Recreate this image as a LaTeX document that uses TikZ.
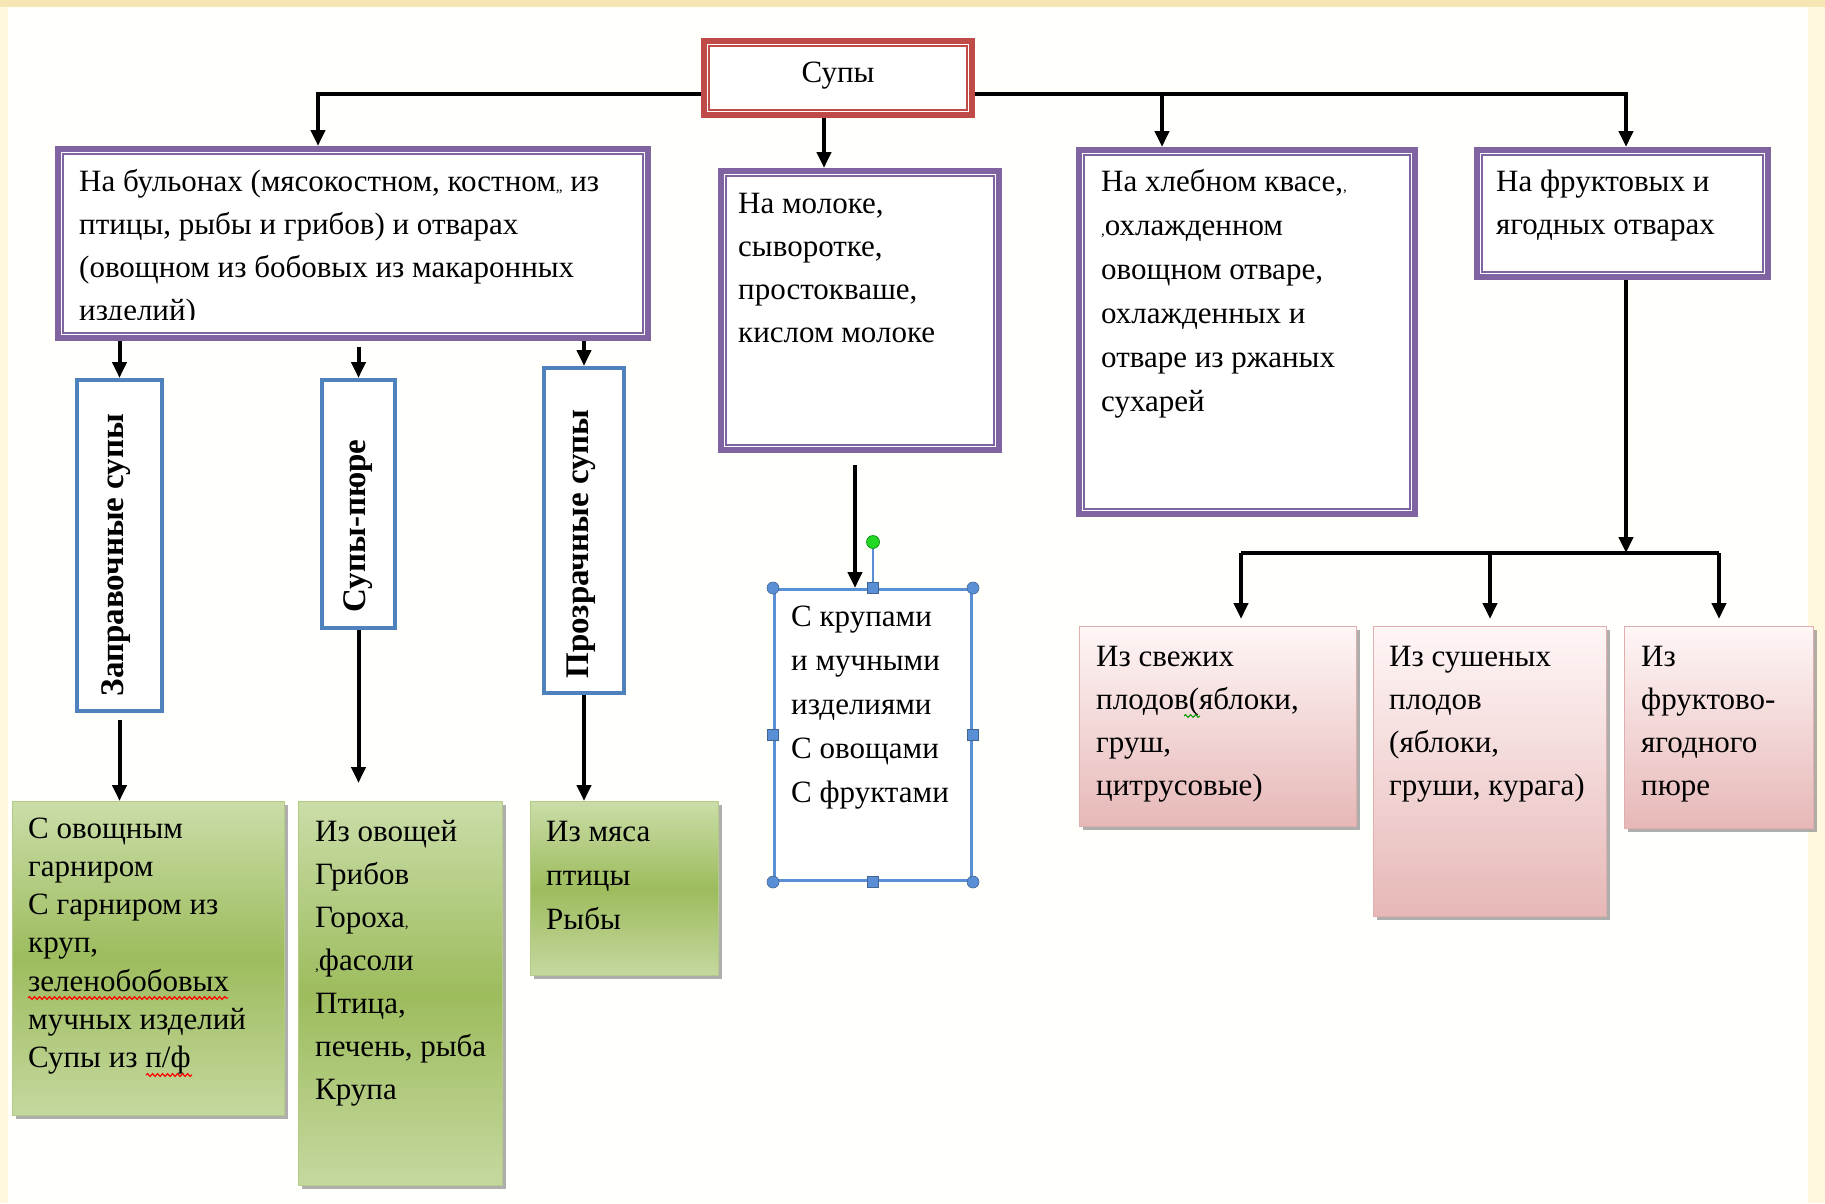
\documentclass[tikz,border=0pt]{standalone}
\usepackage{fontspec}
\setmainfont{Liberation Serif}
\usetikzlibrary{arrows.meta,calc,shadows,decorations.pathmorphing}
\definecolor{purp}{HTML}{8064A2}
\definecolor{redb}{HTML}{BE4B48}
\definecolor{blueb}{HTML}{4F81BD}
\definecolor{selb}{HTML}{5B8FD5}
\definecolor{gA}{HTML}{CADDA8}
\definecolor{gB}{HTML}{9DBC5D}
\definecolor{gC}{HTML}{C5D89F}
\definecolor{gE}{HTML}{B3CB86}
\definecolor{pA}{HTML}{FFF6F6}
\definecolor{pB}{HTML}{E6B8B7}
\definecolor{pE}{HTML}{E0AEAE}
\definecolor{bgc}{HTML}{FFFFFB}
\definecolor{topc}{HTML}{F6E6B4}
\definecolor{sidec}{HTML}{FFF8DE}
\definecolor{rotg}{HTML}{22D822}
\newcommand\ML[2]{\vtop{\baselineskip=#1pt\lineskiplimit=-100pt\lineskip=0pt\halign{##\hfil\cr#2\crcr}}}
\newcommand\sm[1]{{\fontsize{15}{15}\selectfont #1}}
\begin{document}
\begin{tikzpicture}[x=1pt,y=-1pt,
  ln/.style={line width=4pt},
  arr/.style={line width=4pt,-{Triangle[length=16pt,width=14pt]}},
  pbox/.style={rectangle,draw=purp,line width=6pt,fill=white,inner sep=0pt,anchor=north west},
  rbox/.style={rectangle,draw=redb,line width=6pt,fill=white,inner sep=0pt,anchor=north west},
  bbox/.style={rectangle,draw=blueb,line width=4pt,fill=white,inner sep=0pt,anchor=north west},
  gbox/.style={rectangle,draw=gE,line width=1pt,top color=gA,bottom color=gC,middle color=gB,inner sep=0pt,anchor=north west,
     drop shadow={shadow xshift=3pt,shadow yshift=-3pt,fill=black!45,opacity=0.7}},
  pkbox/.style={rectangle,draw=pE,line width=1pt,top color=pA,bottom color=pB,inner sep=0pt,anchor=north west,
     drop shadow={shadow xshift=3pt,shadow yshift=-3pt,fill=black!45,opacity=0.7}},
  sbox/.style={rectangle,draw=selb,line width=3pt,fill=white,inner sep=0pt,anchor=north west},
  txt/.style={font=\fontsize{31}{43}\selectfont,inner sep=0pt,anchor=base west,text=black},
  vtxt/.style={font=\bfseries\fontsize{33}{33}\selectfont,inner sep=0pt,rotate=90,text=black},
  hcirc/.style={circle,fill=selb,draw=selb!70!black,line width=0.6pt,minimum size=12pt,inner sep=0pt},
  hsq/.style={rectangle,fill=selb,draw=selb!70!black,line width=0.6pt,minimum size=11pt,inner sep=0pt},
  wavy/.style={line width=1.2pt,decorate,decoration={snake,amplitude=1.4pt,segment length=5pt}}
]
\useasboundingbox (0,0) rectangle (1825,1203);
\fill[bgc] (0,0) rectangle (1825,1203);
\fill[sidec] (0,0) rectangle (8,1203);
\fill[sidec] (1808,0) rectangle (1825,1203);
\fill[topc] (0,0) rectangle (1825,7);

% top
\node[rbox,minimum width=268pt,minimum height=74pt] (top) at (701,38) {};
\draw[redb,line width=1.5pt] ([shift={(8,8)}]top.north west) rectangle ([shift={(-8,-8)}]top.south east);
\node[txt,anchor=center] (ttop) at ($(top.center)+(0,-2)$) {Супы};

% purple boxes
\node[pbox,minimum width=590pt,minimum height=189pt] (b1) at (55,146) {};
\node[pbox,minimum width=278pt,minimum height=279pt] (b3) at (718,168) {};
\node[pbox,minimum width=336pt,minimum height=364pt] (b4) at (1076,147) {};
\node[pbox,minimum width=291pt,minimum height=127pt] (b5) at (1474,147) {};
\foreach \b in {b1,b3,b4,b5}
  \draw[purp,line width=1.5pt] ([shift={(8,8)}]\b.north west) rectangle ([shift={(-8,-8)}]\b.south east);

\begin{scope}
\clip (b1.north west) rectangle ($(b1.south east)+(0,-22)$);
\node[txt] (t1) at (79,191) {\ML{43}{На бульонах (мясокостном, костном\sm{,,} из\cr
птицы, рыбы и грибов) и отварах\cr
(овощном из бобовых из макаронных\cr
изделий)}};
\end{scope}
\node[txt] (t3) at (738,213) {\ML{43}{На молоке,\cr сыворотке,\cr простокваше,\cr кислом молоке}};
\node[txt] (t4) at (1101,191) {\ML{44}{На хлебном квасе,\sm{,}\cr \sm{,}охлажденном\cr овощном отваре,\cr охлажденных и\cr отваре из ржаных\cr сухарей}};
\node[txt] (t5) at (1496,191) {\ML{43}{На фруктовых и\cr ягодных отварах}};

% blue vertical boxes
\node[bbox,minimum width=85pt,minimum height=331pt] (v1) at (75,378) {};
\node[bbox,minimum width=73pt,minimum height=248pt] (v2) at (320,378) {};
\node[bbox,minimum width=80pt,minimum height=325pt] (v3) at (542,366) {};
\node[vtxt] (tv1) at (116,555) {Заправочные супы};
\node[vtxt] (tv2) at (358,526) {Супы-пюре};
\node[vtxt] (tv3) at (581,544) {Прозрачные супы};

% green boxes
\node[gbox,minimum width=272pt,minimum height=314pt] (g1) at (12,801) {};
\node[gbox,minimum width=204pt,minimum height=384pt] (g2) at (298,801) {};
\node[gbox,minimum width=188pt,minimum height=174pt] (g3) at (530,801) {};
\node[txt] (tg1) at (28,838) {\ML{38.3}{С овощным\cr гарниром\cr С гарниром из\cr круп,\cr зеленобобовых\cr мучных изделий\cr Супы из п/ф}};
\node[txt] (tg2) at (315,841) {\ML{43}{Из овощей\cr Грибов\cr Гороха\sm{,}\cr \sm{,}фасоли\cr Птица,\cr печень, рыба\cr Крупа}};
\node[txt] (tg3) at (546,841) {\ML{44}{Из мяса\cr птицы\cr Рыбы}};
\draw[red,wavy] (28,998) -- (228,998);
\draw[red,wavy] (146,1075) -- (192,1075);

% selection box
\node[sbox,minimum width=197pt,minimum height=291pt] (sel) at (773,588) {};
\node[txt] (ts) at (791,626) {\ML{44}{С крупами\cr и мучными\cr изделиями\cr С овощами\cr С фруктами}};

% pink boxes
\node[pkbox,minimum width=277pt,minimum height=200pt] (p1) at (1079,626) {};
\node[pkbox,minimum width=233pt,minimum height=290pt] (p2) at (1373,626) {};
\node[pkbox,minimum width=189pt,minimum height=202pt] (p3) at (1624,626) {};
\node[txt] (tp1) at (1096,666) {\ML{43}{Из свежих\cr плодов(яблоки,\cr груш,\cr цитрусовые)}};
\node[txt] (tp2) at (1389,666) {\ML{43}{Из сушеных\cr плодов\cr (яблоки,\cr груши, курага)}};
\node[txt] (tp3) at (1641,666) {\ML{43}{Из\cr фруктово-\cr ягодного\cr пюре}};
\draw[green!60!black,wavy,line width=1pt] (1184,716) -- (1200,716);

% connectors
\coordinate (hL) at ($(top.west)+(0,16)$);
\coordinate (hR) at ($(top.east)+(0,16)$);
\coordinate (a1) at ($(b1.north west)+(263,0)$);
\coordinate (a3) at ($(b3.north west)+(106,0)$);
\coordinate (a4) at ($(b4.north west)+(86,0)$);
\coordinate (a5) at ($(b5.north west)+(152,0)$);
\draw[arr] (hL) -| (a1);
\draw[arr] (hR) -| (a5);
\draw[arr] (a4 |- hR) -- (a4);
\draw[arr] (a3 |- top.south) -- (a3);

\draw[arr] (v1.north |- b1.south) -- (v1.north);
\coordinate (c2) at ($(v2.north |- b1.south)+(0,6)$);
\draw[arr] (c2) -- (v2.north);
\draw[arr] (v3.north |- b1.south) -- (v3.north);

\coordinate (d1) at ($(v1.south)+(0,7)$);
\draw[arr] (d1) -- (d1 |- g1.north);
\coordinate (d2) at ($(v2.south |- g2.north)+(0,-18)$);
\draw[arr] (v2.south) -- (d2);
\draw[arr] (v3.south) -- (v3.south |- g3.north);

\coordinate (s1) at ($(b3.south west)+(137,12)$);
\draw[arr] (s1) -- (s1 |- sel.north);

\coordinate (hb) at ($(p1.north)+(0,-73)$);
\coordinate (q1) at ($(p1.north west)+(162,-7)$);
\coordinate (q2) at ($(p2.north)+(0,-7)$);
\coordinate (q3) at ($(p3.north)+(0,-7)$);
\draw[arr] (a5 |- b5.south) -- (a5 |- hb);
\draw[ln] (q1 |- hb) -- (q3 |- hb);
\draw[arr] (q1 |- hb) -- (q1);
\draw[arr] (q2 |- hb) -- (q2);
\draw[arr] (q3 |- hb) -- (q3);

% selection handles
\node[circle,fill=rotg,draw=green!50!black,line width=0.6pt,minimum size=13pt,inner sep=0pt] (rot) at ($(sel.north)+(0,-46)$) {};
\draw[selb,line width=1.5pt] (rot) -- (sel.north);
\foreach \a [count=\i] in {north west,north east,south west,south east}
  \node[hcirc] (hc\i) at (sel.\a) {};
\foreach \a [count=\i] in {north,south,west,east}
  \node[hsq] (hs\i) at (sel.\a) {};
\end{tikzpicture}
\end{document}
